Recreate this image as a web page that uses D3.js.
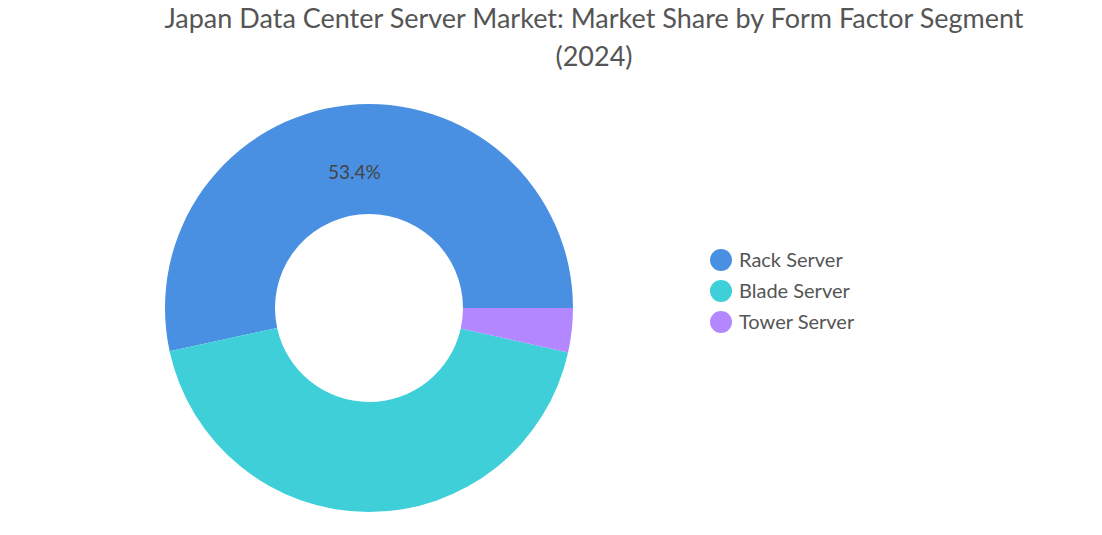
<!DOCTYPE html>
<html>
<head>
<meta charset="utf-8">
<script src="https://cdn.jsdelivr.net/npm/d3@7"></script>
<style>
  body { margin: 0; background: #fff; font-family: Lato, "Noto Sans", sans-serif; }
</style>
</head>
<body>
<script>
const categories = ['Rack Server', 'Blade Server', 'Tower Server'];
const shares = [53.4, 43.1, 3.5];
const colors = ['#4a90e2', '#3ecfd9', '#b388ff'];
const labelled = [true, false, false];

const svg = d3.select('body').append('svg')
  .attr('width', 1102)
  .attr('height', 535);

// Title
const title = svg.append('text')
  .attr('text-anchor', 'middle')
  .attr('fill', '#555')
  .style('font-size', '27px');
title.append('tspan').attr('x', 594).attr('y', 28).text('Japan Data Center Server Market: Market Share by Form Factor Segment');
title.append('tspan').attr('x', 594).attr('y', 66).text('(2024)');

const cx = 369, cy = 308, outerR = 204, innerR = 94;

const pie = d3.pie()
  .sort(null)
  .startAngle(Math.PI / 2)
  .endAngle(Math.PI / 2 - 2 * Math.PI);

const arc = d3.arc().innerRadius(innerR).outerRadius(outerR);
const labelArc = d3.arc().innerRadius(outerR * 0.67).outerRadius(outerR * 0.67);

const g = svg.append('g').attr('transform', `translate(${cx}, ${cy})`);
const arcs = pie(shares);

g.selectAll('path')
  .data(arcs)
  .enter()
  .append('path')
  .attr('d', arc)
  .attr('fill', (d, i) => colors[i]);

g.selectAll('.lbl')
  .data(arcs.filter((d, i) => labelled[i]))
  .enter()
  .append('text')
  .attr('class', 'lbl')
  .attr('transform', d => `translate(${labelArc.centroid(d)})`)
  .attr('text-anchor', 'middle')
  .attr('dy', '0.35em')
  .attr('fill', '#444')
  .style('font-size', '19px')
  .text(d => d.data.toFixed(1) + '%');

// Legend
const legend = svg.append('g').attr('transform', 'translate(721, 260)');
const y = d3.scalePoint().domain(categories).range([0, 62]);
categories.forEach((c, i) => {
  legend.append('circle').attr('cx', 0).attr('cy', y(c)).attr('r', 11).attr('fill', colors[i]);
  legend.append('text').attr('x', 18).attr('y', y(c)).attr('dy', '0.35em')
    .attr('fill', '#555').style('font-size', '20px').text(c);
});
</script>
</body>
</html>
